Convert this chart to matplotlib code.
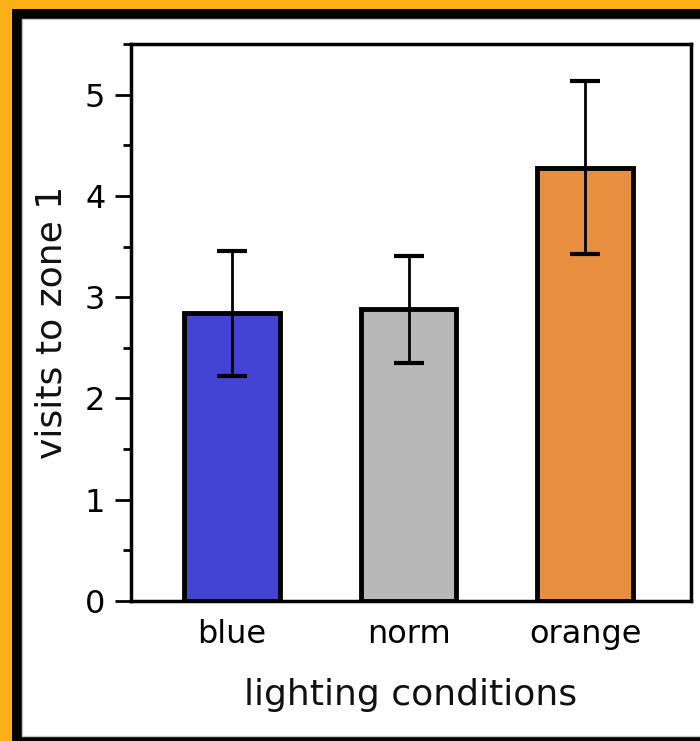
import numpy as np
import matplotlib
matplotlib.use("Agg")
import matplotlib.pyplot as plt
from matplotlib.patches import Rectangle
from matplotlib.ticker import MultipleLocator

# Data
conditions = ["blue", "norm", "orange"]
visits = [2.84, 2.88, 4.28]
errors = [0.62, 0.53, 0.85]
bar_colors = ["#4444D4", "#B8B8B8", "#E88F3F"]

W, H = 700, 741
fig = plt.figure(figsize=(W / 100, H / 100), dpi=100, facecolor="#FCAF17")

# frame: black band and white panel (pixel coords -> figure fraction)
def px_rect(x0, y0, x1, y1, **kw):
    return Rectangle((x0 / W, 1 - y1 / H), (x1 - x0) / W, (y1 - y0) / H,
                     transform=fig.transFigure, zorder=-10, **kw)

fig.patches.append(px_rect(12, 9, W + 5, H + 5, fc="black", ec="none"))
fig.patches.append(px_rect(22, 19, W + 5, 736, fc="white", ec="#C8C8C8", lw=1))

ax = fig.add_axes([131 / W, 1 - 601 / H, 560 / W, 557 / H])
ax.set_zorder(5)
x = np.arange(len(conditions))
ax.bar(x, visits, width=0.54, color=bar_colors, edgecolor="black", linewidth=3.5,
       zorder=2)
ax.errorbar(x, visits, yerr=errors, fmt="none", ecolor="black", elinewidth=2,
            capsize=11, capthick=3, zorder=3)

ax.set_xlim(-0.572, 2.60)
ax.set_ylim(0, 5.5)
ax.set_xticks(x)
ax.set_xticklabels(conditions)
ax.yaxis.set_major_locator(MultipleLocator(1))
ax.yaxis.set_minor_locator(MultipleLocator(0.5))

for s in ax.spines.values():
    s.set_linewidth(2.5)
ax.tick_params(axis="y", which="major", length=11.5, width=2, labelsize=23, pad=7)
ax.tick_params(axis="y", which="minor", length=6, width=2)
ax.tick_params(axis="x", length=0, labelsize=23, pad=13)

ax.set_ylabel("visits to zone 1", fontsize=26, labelpad=12, color="#111111")
ax.set_xlabel("lighting conditions", fontsize=26, labelpad=20, color="#111111")

fig.savefig("out.png", dpi=100, facecolor=fig.get_facecolor())
